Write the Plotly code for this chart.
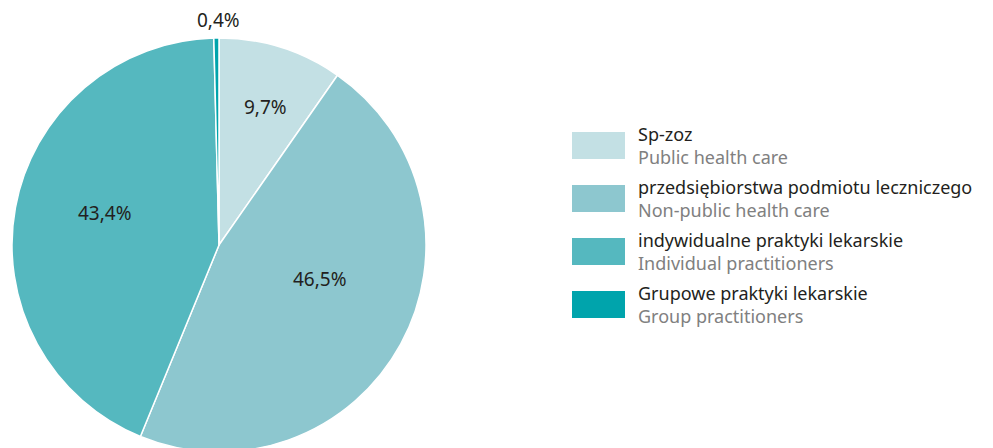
import plotly.graph_objects as go

# data
labels_pl = ['Sp-zoz', 'przedsiębiorstwa podmiotu leczniczego',
             'indywidualne praktyki lekarskie', 'Grupowe praktyki lekarskie']
labels_en = ['Public health care', 'Non-public health care',
             'Individual practitioners', 'Group practitioners']
shares = [9.7, 46.5, 43.4, 0.4]
share_text = ['9,7%', '46,5%', '43,4%', '0,4%']
colors = ['#c3e0e4', '#8dc7cf', '#55b8bf', '#00a4ac']

W, H = 993, 448
OFF = 8  # page body margin of the browser
FONT = 'Noto Sans'


def px(x):
    return (x - OFF) / W


def py(y):
    return 1 - (y - OFF) / H


fig = go.Figure()
fig.add_trace(go.Pie(
    labels=labels_pl,
    values=shares,
    textinfo='none',
    sort=False,
    direction='clockwise',
    rotation=0,
    marker=dict(colors=colors, line=dict(color='white', width=1.5)),
    domain=dict(x=[px(12), px(426)], y=[py(452), py(38)]),
    hoverinfo='label+percent',
    showlegend=False,
))

# slice labels, placed like in the reference
label_pos = [(265, 107), (320, 279), (105, 213), (218, 20)]
annotations = []
for t, (lx, ly) in zip(share_text, label_pos):
    annotations.append(dict(x=px(lx), y=py(ly), xref='paper', yref='paper',
                            text=t, showarrow=False,
                            xanchor='center', yanchor='middle',
                            font=dict(family=FONT, size=19, color='#231f20')))

# hand-drawn legend: box + two text lines (Polish / English)
x_box, box_w, box_h = 572, 53, 27
y0, step = 132, 53
shapes = []
for i, (pl, en, c) in enumerate(zip(labels_pl, labels_en, colors)):
    top = y0 + i * step
    shapes.append(dict(type='rect', xref='paper', yref='paper',
                       x0=px(x_box), x1=px(x_box + box_w),
                       y0=py(top), y1=py(top + box_h),
                       fillcolor=c, line=dict(width=0)))
    annotations.append(dict(x=px(636), y=py(top + box_h / 2), xref='paper', yref='paper',
                            text=pl + '<br><span style="color:#808080">' + en + '</span>',
                            showarrow=False, xanchor='left', yanchor='middle', align='left',
                            font=dict(family=FONT, size=18, color='#231f20')))

fig.update_layout(
    width=W, height=H,
    margin=dict(l=0, r=0, t=0, b=0),
    paper_bgcolor='white',
    plot_bgcolor='white',
    shapes=shapes,
    annotations=annotations,
)

fig.write_html('out.html')
